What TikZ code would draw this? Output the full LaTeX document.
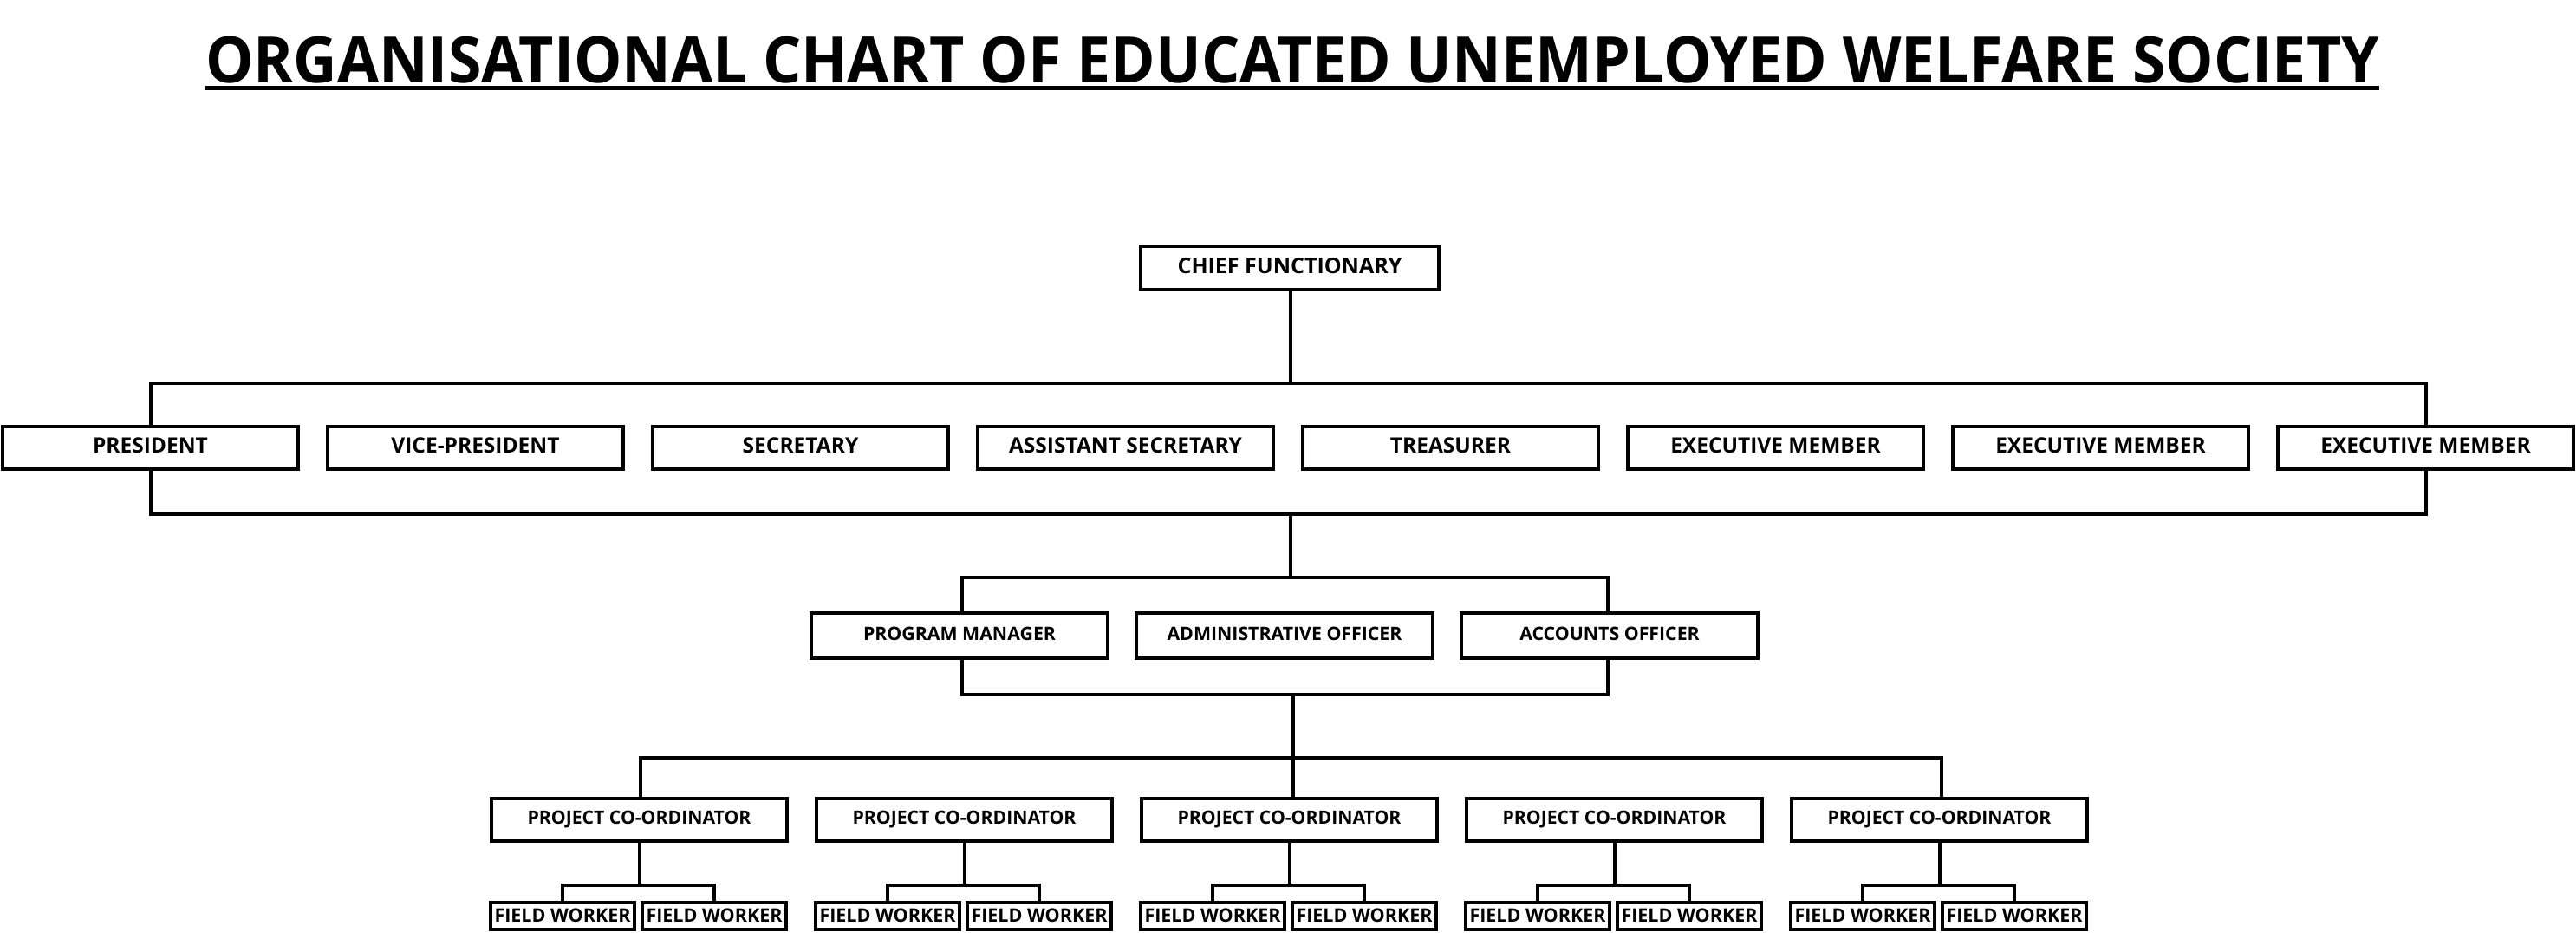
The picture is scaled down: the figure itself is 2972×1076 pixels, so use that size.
\documentclass[tikz,border=0pt]{standalone}
\usepackage{fontspec}
\setmainfont{Open Sans}
\usepackage{graphicx}
\begin{document}
\begin{tikzpicture}[x=1pt,y=-1pt,line width=4pt,line join=miter,
  box/.style={draw,line width=4pt,inner sep=0pt,outer sep=0pt,align=center,fill=white},
  chiefbox/.style={box,minimum width=344pt,minimum height=50pt,font=\bfseries\fontsize{25}{28}\selectfont,text height=18pt,text depth=6pt},
  rowbox/.style={box,minimum width=341pt,minimum height=49pt,font=\bfseries\fontsize{24.5}{28}\selectfont,text height=17.5pt,text depth=6pt},
  midbox/.style={box,minimum width=342pt,minimum height=52pt,font=\bfseries\fontsize{21.3}{24}\selectfont,text height=15pt,text depth=5pt},
  pcbox/.style={box,minimum width=341pt,minimum height=49pt,font=\bfseries\fontsize{21.2}{24}\selectfont,text height=15pt,text depth=5pt},
  fwbox/.style={box,minimum width=166pt,minimum height=31pt,font=\bfseries\fontsize{21.5}{24}\selectfont,text height=15.3pt,text depth=1pt}]
\useasboundingbox (0,0) rectangle (2972,1076);

% title
\node[anchor=base west,inner sep=0pt,outer sep=0pt] (title) at (237,95)
  {\resizebox{2508pt}{53.5pt}{\bfseries ORGANISATIONAL CHART OF EDUCATED UNEMPLOYED WELFARE SOCIETY}};
\draw[line width=5pt] ([yshift=-6.5pt]title.base west) -- ([yshift=-6.5pt]title.base east);

% bus levels
\coordinate (j1) at (0,442);
\coordinate (j2) at (0,593);
\coordinate (j3) at (0,666);
\coordinate (j4) at (0,801);
\coordinate (j5) at (0,874);
\coordinate (j6) at (0,1021);
\coordinate (mid) at (1492,801);

% chief
\node[chiefbox] (chief) at (1488,309) {CHIEF FUNCTIONARY};

% row 1
\node[rowbox] (p1) at (173.5,516.5) {PRESIDENT};
\node[rowbox] (p2) at (548.5,516.5) {VICE-PRESIDENT};
\node[rowbox] (p3) at (923.5,516.5) {SECRETARY};
\node[rowbox] (p4) at (1298.5,516.5) {ASSISTANT SECRETARY};
\node[rowbox] (p5) at (1673.5,516.5) {TREASURER};
\node[rowbox] (p6) at (2048.5,516.5) {EXECUTIVE MEMBER};
\node[rowbox] (p7) at (2423.5,516.5) {EXECUTIVE MEMBER};
\node[rowbox] (p8) at (2798.5,516.5) {EXECUTIVE MEMBER};

% row 2
\node[midbox] (m1) at (1107,733) {PROGRAM MANAGER};
\node[midbox] (m2) at (1482,733) {ADMINISTRATIVE OFFICER};
\node[midbox] (m3) at (1857,733) {ACCOUNTS OFFICER};

% project co-ordinators and field workers
\foreach \i in {1,...,5}{
  \pgfmathsetmacro{\cx}{737.5+375*(\i-1)}
  \node[pcbox] (c\i) at (\cx,945.5) {PROJECT CO-ORDINATOR};
  \node[fwbox] (fa\i) at (\cx-88.5,1056.5) {FIELD WORKER};
  \node[fwbox] (fb\i) at (\cx+86.5,1056.5) {FIELD WORKER};
  \draw (c\i.south) -- (c\i.south |- j6);
  \draw (fa\i.north) -- (fa\i.north |- j6) -- (fb\i.north |- j6) -- (fb\i.north);
}

% connectors
\draw ([xshift=1pt]chief.south) -- ([xshift=1pt]chief.south |- j1);
\draw (p1.north) -- (p1.north |- j1) -- (p8.north |- j1) -- (p8.north);
\draw (p1.south) -- (p1.south |- j2) -- (p8.south |- j2) -- (p8.south);
\draw ([xshift=1pt]chief.south |- j2) -- ([xshift=1pt]chief.south |- j3);
\draw ([xshift=3pt]m1.north) -- ([xshift=3pt]m1.north |- j3) -- ([xshift=-2pt]m3.north |- j3) -- ([xshift=-2pt]m3.north);
\draw ([xshift=3pt]m1.south) -- ([xshift=3pt]m1.south |- j4) -- ([xshift=-2pt]m3.south |- j4) -- ([xshift=-2pt]m3.south);
\draw (mid) -- (mid |- c3.north);
\draw ([xshift=1.5pt]c1.north) -- ([xshift=1.5pt]c1.north |- j5) -- ([xshift=2.5pt]c5.north |- j5) -- ([xshift=2.5pt]c5.north);
\end{tikzpicture}
\end{document}
